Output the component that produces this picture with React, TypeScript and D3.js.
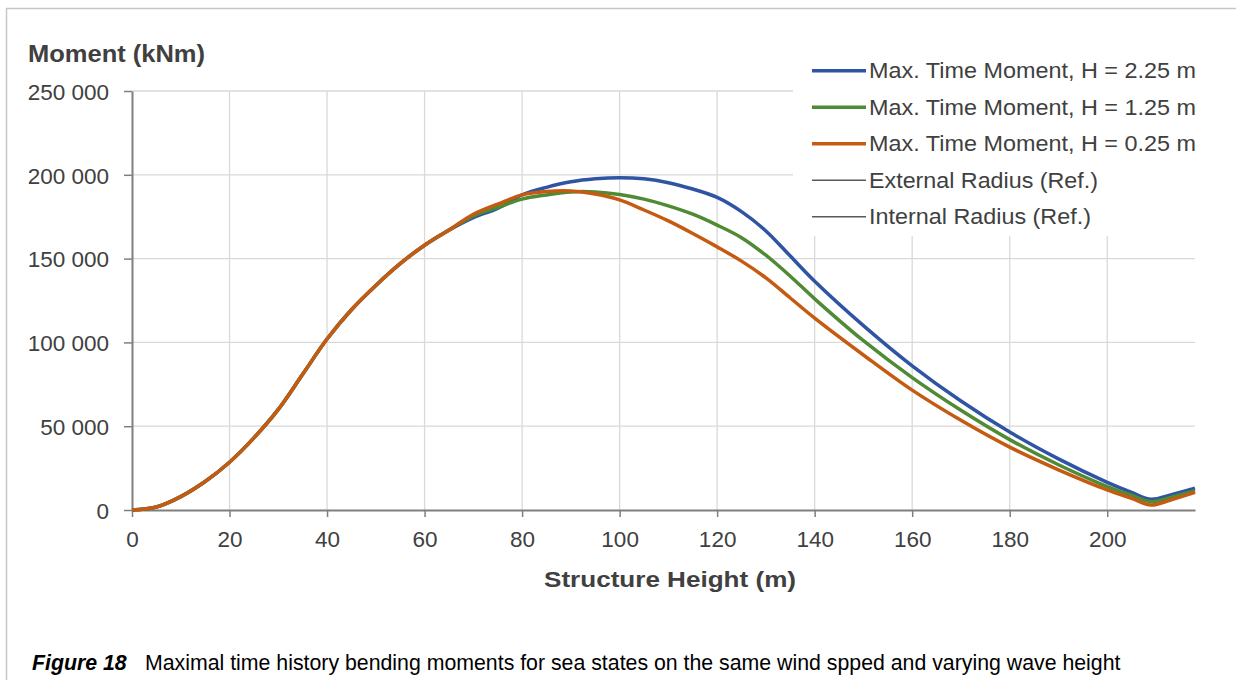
import * as d3 from "d3";
import { useEffect, useRef } from "react";

// structure height (m) and max time moments (kNm)
const heights = [0, 5, 10, 15, 20, 25, 30, 35, 40, 45, 50, 55, 60, 65, 70, 75, 80, 85, 90, 95, 100, 105, 110, 115, 120, 125, 130, 135, 140, 150, 160, 170, 180, 190, 200, 205, 209, 213, 218];

const momentH225 = [0, 1800, 8000, 17000, 28500, 43000, 60000, 81000, 102000, 119500, 134000, 147000, 158000, 167000, 174500, 180000, 188000, 192500, 195800, 197600, 198300, 197600, 195300, 191500, 186500, 178000, 166500, 151500, 136500, 110000, 86000, 65000, 46500, 30500, 16500, 10500, 6400, 9000, 13000];
const momentH125 = [0, 1800, 8000, 17000, 28500, 43000, 60000, 81000, 102000, 119500, 134000, 147000, 158000, 167000, 175500, 180500, 185500, 188000, 189800, 189800, 188300, 185500, 181500, 176500, 170000, 162500, 152000, 139500, 126000, 101000, 79000, 59500, 42000, 27000, 14000, 8800, 5000, 7500, 11500];
const momentH025 = [0, 1800, 8000, 17000, 28500, 43000, 60000, 81000, 102000, 119500, 134000, 147000, 158000, 167000, 176500, 182500, 188000, 190000, 190300, 188500, 185000, 179000, 172500, 165000, 157000, 148500, 138500, 126500, 114500, 92500, 71500, 53500, 37500, 24000, 12000, 7000, 3000, 6000, 10500];

const xTicks = [0, 20, 40, 60, 80, 100, 120, 140, 160, 180, 200];
const yTicks = [0, 50000, 100000, 150000, 200000, 250000];

const seriesNames = [
  "Max. Time Moment, H = 2.25 m",
  "Max. Time Moment, H = 1.25 m",
  "Max. Time Moment, H = 0.25 m",
];
const refNames = ["External Radius (Ref.)", "Internal Radius (Ref.)"];
const seriesColors = ["#2f54a3", "#4f8a34", "#c55a11"];

const FONT = "'Liberation Sans', Arial, sans-serif";

export default function App() {
  const ref = useRef<SVGSVGElement | null>(null);

  useEffect(() => {
    const svg = d3.select(ref.current);
    svg.selectAll("*").remove();

    const left = 132;
    const right = 1195;
    const top = 91;
    const bottom = 510;

    const x = d3.scaleLinear().domain([0, 218]).range([left, right]);
    const y = d3.scaleLinear().domain([0, 250000]).range([bottom, top]);
    const fmt = d3.formatLocale({ decimal: ".", thousands: " ", grouping: [3], currency: ["", ""] }).format(",");

    // figure frame
    svg
      .append("rect")
      .attr("x", 6.5)
      .attr("y", 8.5)
      .attr("width", 1300)
      .attr("height", 700)
      .attr("fill", "#fff")
      .attr("stroke", "#c6c6c6")
      .attr("stroke-width", 1.5);

    // grid
    svg
      .append("g")
      .selectAll("line")
      .data(xTicks.slice(1))
      .join("line")
      .attr("x1", (d) => x(d))
      .attr("x2", (d) => x(d))
      .attr("y1", top)
      .attr("y2", bottom)
      .attr("stroke", "#d9d9d9")
      .attr("stroke-width", 1.3);

    svg
      .append("g")
      .selectAll("line")
      .data(yTicks.slice(1))
      .join("line")
      .attr("x1", left)
      .attr("x2", right)
      .attr("y1", (d) => y(d))
      .attr("y2", (d) => y(d))
      .attr("stroke", "#d9d9d9")
      .attr("stroke-width", 1.3);

    // axes
    const xAxis = svg
      .append("g")
      .attr("transform", `translate(0,${bottom})`)
      .call(d3.axisBottom(x).tickValues(xTicks).tickSize(7).tickPadding(14).tickSizeOuter(0));
    const yAxis = svg
      .append("g")
      .attr("transform", `translate(${left},0)`)
      .call(d3.axisLeft(y).tickValues(yTicks).tickSize(8).tickPadding(15).tickSizeOuter(0).tickFormat((d) => fmt(d as number)));

    [xAxis, yAxis].forEach((g) => {
      g.select(".domain").attr("stroke", "#7f7f7f").attr("stroke-width", 2);
      g.selectAll(".tick line").attr("stroke", "#7f7f7f").attr("stroke-width", 1.5);
      g.selectAll(".tick text")
        .attr("fill", "#404040")
        .style("font-family", FONT)
        .style("font-size", "22.5px");
    });
    yAxis.selectAll(".tick text").attr("dy", "0.37em");

    // series
    const line = d3
      .line<number>()
      .x((_, i) => x(heights[i]))
      .y((d) => y(d))
      .curve(d3.curveCatmullRom.alpha(0.5));

    [momentH225, momentH125, momentH025].forEach((values, i) => {
      svg
        .append("path")
        .datum(values)
        .attr("fill", "none")
        .attr("stroke", seriesColors[i])
        .attr("stroke-width", 3.5)
        .attr("stroke-linejoin", "round")
        .attr("d", line);
    });

    // axis titles
    svg
      .append("text")
      .attr("x", 28)
      .attr("y", 62)
      .attr("textLength", 177)
      .attr("lengthAdjust", "spacingAndGlyphs")
      .style("font-family", FONT)
      .style("font-size", "23px")
      .style("font-weight", "bold")
      .attr("fill", "#404040")
      .text("Moment (kNm)");

    svg
      .append("text")
      .attr("x", 544)
      .attr("y", 587)
      .attr("textLength", 252)
      .attr("lengthAdjust", "spacingAndGlyphs")
      .style("font-family", FONT)
      .style("font-size", "22px")
      .style("font-weight", "bold")
      .attr("fill", "#404040")
      .text("Structure Height (m)");

    // legend
    const legend = svg.append("g");
    legend
      .append("rect")
      .attr("x", 793)
      .attr("y", 52)
      .attr("width", 430)
      .attr("height", 184)
      .attr("fill", "#fff");

    const entries = [
      ...seriesNames.map((name, i) => ({ name, color: seriesColors[i], width: 3.5, len: 327 })),
      ...refNames.map((name, i) => ({ name, color: "#595959", width: 1.6, len: i === 0 ? 229 : 222 })),
    ];
    entries.forEach((e, i) => {
      const cy = 70.7 + i * 36.5;
      legend
        .append("line")
        .attr("x1", 812)
        .attr("x2", 866)
        .attr("y1", cy)
        .attr("y2", cy)
        .attr("stroke", e.color)
        .attr("stroke-width", e.width);
      legend
        .append("text")
        .attr("x", 869)
        .attr("y", cy + 7.5)
        .attr("textLength", e.len)
        .attr("lengthAdjust", "spacingAndGlyphs")
        .style("font-family", FONT)
        .style("font-size", "21.5px")
        .attr("fill", "#404040")
        .text(e.name);
    });

    // caption
    const caption = svg
      .append("text")
      .attr("x", 32)
      .attr("y", 670)
      .style("font-family", FONT)
      .style("font-size", "21.3px")
      .attr("fill", "#000");
    caption.append("tspan").style("font-weight", "bold").style("font-style", "italic").text("Figure 18");
    caption
      .append("tspan")
      .attr("x", 145)
      .text("Maximal time history bending moments for sea states on the same wind spped and varying wave height");
  }, []);

  return (
    <svg
      ref={ref}
      width={1236}
      height={680}
      style={{ position: "absolute", left: 0, top: 0, background: "#fff" }}
    />
  );
}
